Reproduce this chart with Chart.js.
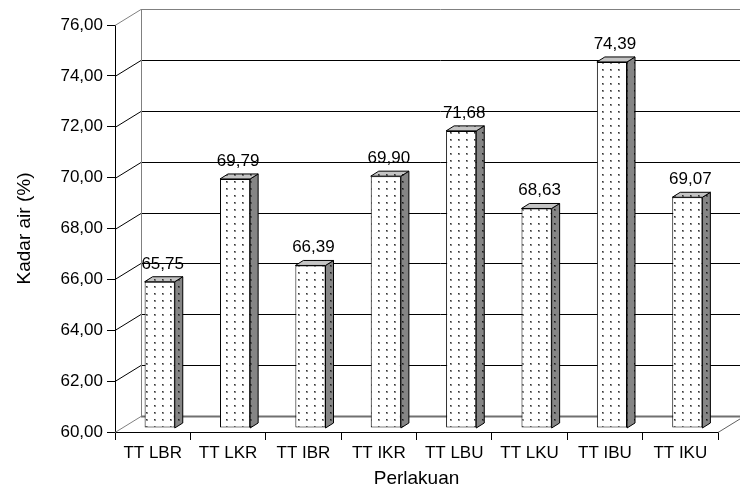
<!DOCTYPE html>
<html>
<head>
<meta charset="utf-8">
<script src="https://cdn.jsdelivr.net/npm/chart.js@4/dist/chart.umd.min.js"></script>
<style>
  html, body { margin: 0; padding: 0; background: #ffffff; }
  #wrap { width: 740px; height: 495px; }
</style>
</head>
<body>
<div id="wrap"><canvas id="chart" width="740" height="495"></canvas></div>
<script>
// Treatments and measured moisture content (%)
const categories = ['TT LBR', 'TT LKR', 'TT IBR', 'TT IKR', 'TT LBU', 'TT LKU', 'TT IBU', 'TT IKU'];
const kadarAir = [65.75, 69.79, 66.39, 69.90, 71.68, 68.63, 74.39, 69.07];
const yMin = 60;
const yMax = 76;
const yStep = 2;

const FONT = 'Liberation Sans, Arial, sans-serif';

// Pseudo-3D geometry: back wall depth and bar depth
const WALL_DX = 26, WALL_DY = -16;
const BAR_SHIFT_X = 7, BAR_SHIFT_Y = -4;
const BAR_DX = 8, BAR_DY = -5;

function fmt(v) { return v.toFixed(2).replace('.', ','); }

// small dotted fill used on the bar faces
function dotPattern(bg, halo, dot) {
  const c = document.createElement('canvas');
  c.width = 8; c.height = 7;
  const g = c.getContext('2d');
  g.fillStyle = bg;
  g.fillRect(0, 0, 8, 7);
  g.fillStyle = halo;
  g.fillRect(3, 3, 2, 2);
  g.fillStyle = dot;
  g.fillRect(3, 3, 1, 1);
  return g.createPattern(c, 'repeat');
}

const frontFill = dotPattern('#ffffff', '#8a8a8a', '#333333');
const sideFill = dotPattern('#858585', '#505050', '#1a1a1a');
const topFill = dotPattern('#c4c4c4', '#707070', '#333333');

function line(ctx, x1, y1, x2, y2, color, width) {
  ctx.beginPath();
  ctx.strokeStyle = color;
  ctx.lineWidth = width;
  ctx.moveTo(x1, y1);
  ctx.lineTo(x2, y2);
  ctx.stroke();
}

const wallAndBars = {
  id: 'wallAndBars',
  beforeDatasetsDraw(chart) {
    const { ctx, chartArea, scales } = chart;
    const y = scales.y;
    const left = chartArea.left, right = chartArea.right;
    const W = chart.width;
    ctx.save();
    ctx.lineCap = 'butt';
    // back wall gridlines and their connectors to the front axis
    for (let v = yMin; v <= yMax; v += yStep) {
      const py = Math.round(y.getPixelForValue(v)) + 0.5;
      const edge = (v === yMin || v === yMax);
      const col = edge ? '#808080' : '#000000';
      line(ctx, left, py, left + WALL_DX, py + WALL_DY, col, 1);
      if (v === yMin) {
        line(ctx, left + WALL_DX, py + WALL_DY, W, py + WALL_DY, '#707070', 2);
      } else {
        line(ctx, left + WALL_DX, py + WALL_DY, W, py + WALL_DY, col, 1);
      }
    }
    // left edge of the back wall
    const yTop = Math.round(y.getPixelForValue(yMax)) + 0.5 + WALL_DY;
    const yBot = Math.round(y.getPixelForValue(yMin)) + 0.5 + WALL_DY;
    line(ctx, left + WALL_DX + 0.5, yTop, left + WALL_DX + 0.5, yBot, '#808080', 1);
    // right edge of the floor
    const yFloor = Math.round(y.getPixelForValue(yMin)) + 0.5;
    line(ctx, right, yFloor, right + WALL_DX, yFloor + WALL_DY, '#606060', 1);
    ctx.restore();

    // bars sit slightly behind the front plane
    ctx.save();
    ctx.translate(BAR_SHIFT_X, BAR_SHIFT_Y);
  },
  afterDatasetsDraw(chart) {
    const { ctx, scales } = chart;
    const meta = chart.getDatasetMeta(0);
    const base = scales.y.getPixelForValue(yMin);
    ctx.lineWidth = 1;
    ctx.strokeStyle = '#000000';
    ctx.lineJoin = 'miter';
    meta.data.forEach((bar, i) => {
      const p = bar.getProps(['x', 'y', 'width'], true);
      const x0 = p.x - p.width / 2, x1 = p.x + p.width / 2;
      const top = p.y;
      // side face
      ctx.beginPath();
      ctx.moveTo(x1, top);
      ctx.lineTo(x1 + BAR_DX, top + BAR_DY);
      ctx.lineTo(x1 + BAR_DX, base + BAR_DY);
      ctx.lineTo(x1, base);
      ctx.closePath();
      ctx.fillStyle = sideFill;
      ctx.fill();
      ctx.stroke();
      // top face
      ctx.beginPath();
      ctx.moveTo(x0, top);
      ctx.lineTo(x0 + BAR_DX, top + BAR_DY);
      ctx.lineTo(x1 + BAR_DX, top + BAR_DY);
      ctx.lineTo(x1, top);
      ctx.closePath();
      ctx.fillStyle = topFill;
      ctx.fill();
      ctx.stroke();
      // value label
      ctx.fillStyle = '#000000';
      ctx.font = '17px ' + FONT;
      ctx.textAlign = 'center';
      ctx.textBaseline = 'alphabetic';
      ctx.fillText(fmt(kadarAir[i]), p.x + 3, top - 13);
    });
    ctx.restore();
  }
};

new Chart(document.getElementById('chart'), {
  type: 'bar',
  data: {
    labels: categories,
    datasets: [{
      data: kadarAir,
      base: yMin,
      clip: false,
      backgroundColor: frontFill,
      borderColor: '#000000',
      borderWidth: 1,
      borderSkipped: false,
      barPercentage: 0.4,
      categoryPercentage: 1.0
    }]
  },
  options: {
    responsive: false,
    animation: false,
    devicePixelRatio: 1,
    layout: { padding: { top: 25, right: 22, left: 0, bottom: 0 } },
    plugins: { legend: { display: false }, tooltip: { enabled: false } },
    scales: {
      x: {
        afterFit(scale) { scale.height = 63; },
        grid: {
          offset: true,
          drawOnChartArea: false,
          drawTicks: true,
          tickLength: 8,
          color: '#000000'
        },
        border: { display: true, color: '#000000', width: 1 },
        ticks: {
          color: '#000000',
          padding: 3,
          maxRotation: 0,
          autoSkip: false,
          font: { family: FONT, size: 17 }
        },
        title: {
          display: true,
          text: 'Perlakuan',
          color: '#000000',
          font: { family: FONT, size: 19 },
          padding: { top: 0, bottom: 5 }
        }
      },
      y: {
        min: yMin,
        max: yMax,
        afterFit(scale) { scale.width = 115; },
        grid: {
          drawOnChartArea: false,
          drawTicks: true,
          tickLength: 8,
          color: '#000000'
        },
        border: { display: true, color: '#000000', width: 1 },
        ticks: {
          stepSize: yStep,
          color: '#000000',
          padding: 4,
          font: { family: FONT, size: 17 },
          callback: (v) => fmt(v)
        },
        title: {
          display: true,
          text: 'Kadar air (%)',
          color: '#000000',
          font: { family: FONT, size: 19 },
          padding: { top: 13, bottom: 0 }
        }
      }
    }
  },
  plugins: [wallAndBars]
});
</script>
</body>
</html>
